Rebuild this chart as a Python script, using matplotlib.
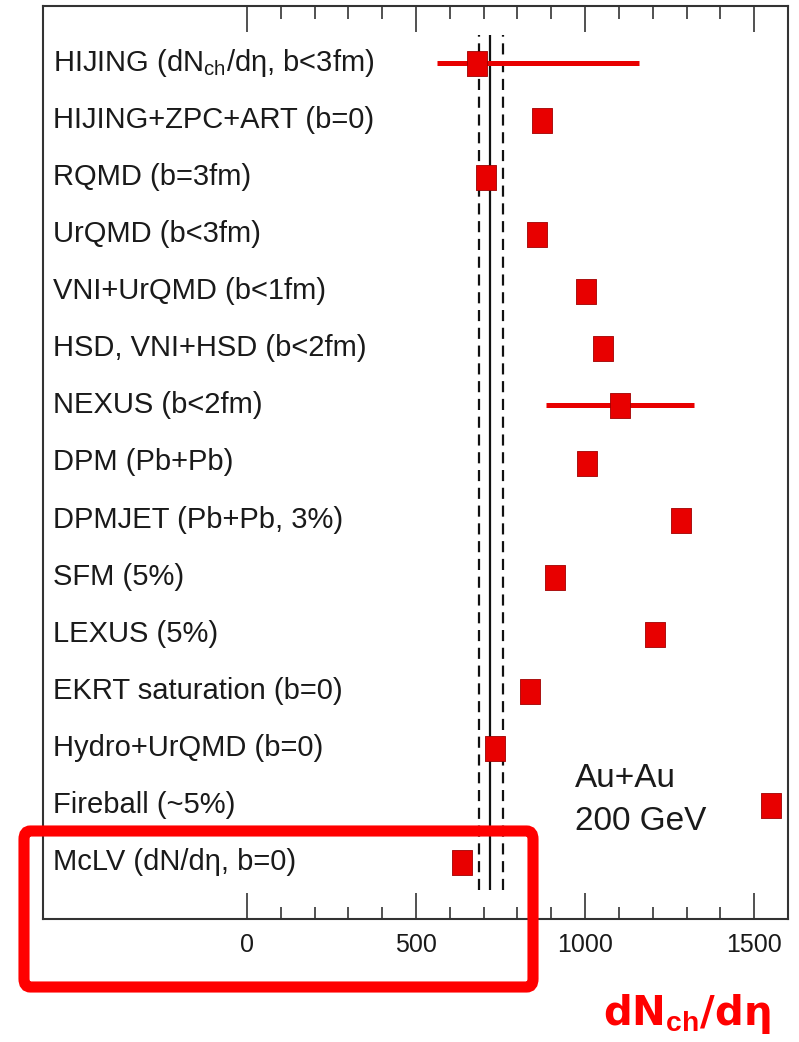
import matplotlib
matplotlib.use("Agg")
import matplotlib.pyplot as plt
from matplotlib.patches import FancyBboxPatch
from matplotlib.ticker import FixedLocator
import numpy as np

plt.rcParams['font.family'] = ['Liberation Sans', 'DejaVu Sans']
plt.rcParams['mathtext.fontset'] = 'custom'
plt.rcParams['mathtext.rm'] = 'Liberation Sans'
plt.rcParams['mathtext.it'] = 'Liberation Sans'
plt.rcParams['mathtext.bf'] = 'Liberation Sans:bold'

# ---- data (top to bottom) ----
models = [
    "HIJING (dN$_{\\rm ch}$/dη, b<3fm)",
    "HIJING+ZPC+ART (b=0)",
    "RQMD (b=3fm)",
    "UrQMD (b<3fm)",
    "VNI+UrQMD (b<1fm)",
    "HSD, VNI+HSD (b<2fm)",
    "NEXUS (b<2fm)",
    "DPM (Pb+Pb)",
    "DPMJET (Pb+Pb, 3%)",
    "SFM (5%)",
    "LEXUS (5%)",
    "EKRT saturation (b=0)",
    "Hydro+UrQMD (b=0)",
    "Fireball (~5%)",
    "McLV (dN/dη, b=0)",
]
values = [680, 873, 707, 858, 1003, 1053, 1104, 1006, 1284, 911, 1207, 837, 734, 1550, 636]
err_low = [562, None, None, None, None, None, 885, None, None, None, None, None, None, None, None]
err_high = [1160, None, None, None, None, None, 1322, None, None, None, None, None, None, None, None]

measured = 719
measured_low = 686
measured_high = 756

major_ticks = [0, 500, 1000, 1500]
minor_ticks = [v for v in range(0, 1601, 100) if v not in major_ticks]

W, H = 799, 1042
fig = plt.figure(figsize=(W / 100, H / 100), dpi=100)
ax = fig.add_axes([43 / W, 1 - 919 / H, (788 - 43) / W, (919 - 6) / H])

n = len(models)
ypos = np.arange(n)[::-1]  # top row has highest y

red = '#e80000'
rect_marker = [(-0.4, -0.5), (0.4, -0.5), (0.4, 0.5), (-0.4, 0.5), (-0.4, -0.5)]

# measured value lines
ax.vlines(measured, -0.5, n - 0.5, colors='#111111', lw=1.6)
ax.vlines([measured_low, measured_high], -0.5, n - 0.5, colors='#111111',
          lw=1.6, linestyles=(0, (5, 3)))

for y, v, lo, hi, name in zip(ypos, values, err_low, err_high, models):
    if lo is not None:
        ax.plot([lo, hi], [y, y], color=red, lw=3.6, solid_capstyle='butt', zorder=3)
    ax.plot([v], [y], marker=rect_marker, markersize=18, color=red,
            markeredgecolor='#a00000', markeredgewidth=0.6, zorder=4, linestyle='none')
    ax.text(0.0134, y, name, transform=ax.get_yaxis_transform(), ha='left',
            va='center', fontsize=21, color='#1a1a1a')

ax.text(970, 1.31, "Au+Au", fontsize=24, color='#1a1a1a', ha='left', va='baseline')
ax.text(970, 0.56, "200 GeV", fontsize=24, color='#1a1a1a', ha='left', va='baseline')

ax.set_xlim(-603, 1600)
ax.set_ylim(-1, n)
ax.set_yticks([])
ax.xaxis.set_major_locator(FixedLocator(major_ticks))
ax.xaxis.set_minor_locator(FixedLocator(minor_ticks))
ax.tick_params(axis='x', which='both', direction='in', top=True, bottom=True,
               colors='#333333', width=1.2)
ax.tick_params(axis='x', which='major', length=19, labelsize=18, pad=10,
               labelcolor='#1a1a1a')
ax.tick_params(axis='x', which='minor', length=9)
for s in ax.spines.values():
    s.set_color('#333333')
    s.set_linewidth(1.5)

# red axis title
fig.text(687 / W, 1 - 1025 / H, "dN$_{\\mathbf{ch}}$/dη", color='#ff0000',
         fontsize=29, fontweight='bold', ha='center', va='baseline',
         family=['DejaVu Sans'])

# red highlight box
box = FancyBboxPatch((24 / W, 1 - 987 / H), (533 - 24) / W, (987 - 831) / H,
                     boxstyle="round,pad=0,rounding_size=0.008",
                     transform=fig.transFigure, fill=False,
                     edgecolor='#ff0000', lw=8, zorder=10)
fig.patches.append(box)

fig.savefig("out.png", dpi=100)
